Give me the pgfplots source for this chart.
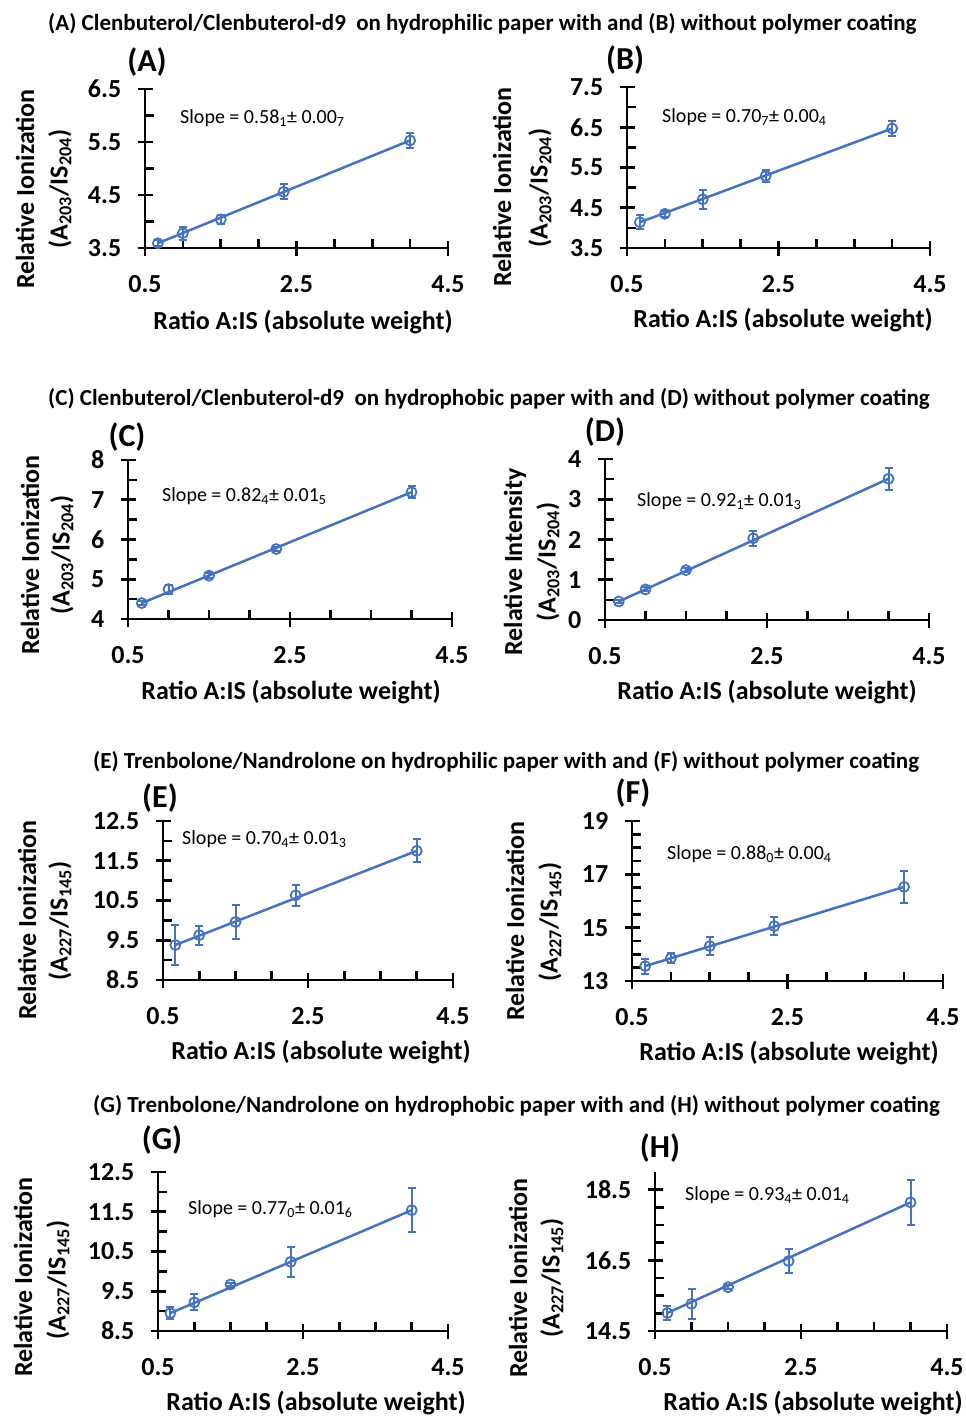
\documentclass[border=0pt]{standalone}
\usepackage{fontspec}
\setmainfont{Carlito}
\usepackage{pgfplots}
\pgfplotsset{compat=1.18}
\usepackage{pgfplotstable}
\definecolor{xlblue}{HTML}{4472C4}

% x = ratio A:IS, y = relative ionization, e = error
\pgfplotstableread{
x y e
0.67 3.59 0.06
1.0 3.78 0.12
1.5 4.04 0.09
2.33 4.56 0.14
4.0 5.53 0.14
}\dataA
\pgfplotstableread{
x y e
0.67 4.14 0.18
1.0 4.35 0.08
1.5 4.71 0.24
2.33 5.29 0.16
4.0 6.47 0.19
}\dataB
\pgfplotstableread{
x y e
0.67 4.40 0.05
1.0 4.75 0.11
1.5 5.09 0.06
2.33 5.76 0.05
4.0 7.19 0.15
}\dataC
\pgfplotstableread{
x y e
0.67 0.46 0.04
1.0 0.76 0.05
1.5 1.24 0.05
2.33 2.03 0.19
4.0 3.51 0.27
}\dataD
\pgfplotstableread{
x y e
0.67 9.38 0.50
1.0 9.63 0.24
1.5 9.96 0.42
2.33 10.63 0.26
4.0 11.75 0.29
}\dataE
\pgfplotstableread{
x y e
0.67 13.56 0.28
1.0 13.86 0.20
1.5 14.31 0.33
2.33 15.06 0.33
4.0 16.53 0.59
}\dataF
\pgfplotstableread{
x y e
0.67 8.95 0.15
1.0 9.22 0.20
1.5 9.67 0.05
2.33 10.24 0.37
4.0 11.54 0.56
}\dataG
\pgfplotstableread{
x y e
0.67 15.01 0.20
1.0 15.27 0.43
1.5 15.74 0.06
2.33 16.48 0.33
4.0 18.14 0.63
}\dataH

\newcommand{\tickfont}{\bfseries\fontsize{26}{28}\selectfont}
\newcommand{\labfont}{\bfseries\fontsize{26}{28}\selectfont}
\newcommand{\letfont}{\bfseries\fontsize{32}{34}\selectfont}
\newcommand{\slopefont}{\fontsize{20}{22}\selectfont}
\newcommand{\rowfont}{\bfseries\fontsize{23}{25}\selectfont}

\pgfplotsset{
  panel/.style={
    scale only axis, anchor=south west, clip=false,
    axis lines=left, axis line style={-, line width=2.6pt},
    xmin=0.5, xmax=4.5, xtick={0.5,2.5,4.5}, minor x tick num=3,
    tick align=center, major tick length=15pt, minor tick length=9pt,
    tick style={black, line width=2.6pt},
    minor x tick style={yshift=4.5pt},
    minor y tick style={xshift=4.5pt},
    tick label style={font=\tickfont, inner sep=0pt},
    /pgf/number format/assume math mode=true,
    xticklabel style={/pgf/number format/.cd, fixed, fixed zerofill, precision=1},
    xticklabel shift=20pt, yticklabel shift=16pt,
  },
  half/.style={yticklabel style={/pgf/number format/.cd, fixed, fixed zerofill, precision=1}},
  pts/.style={only marks, xlblue, mark=o, mark size=5pt, mark options={line width=1.8pt},
    error bars/.cd, y dir=both, y explicit,
    error bar style={line width=2pt, xlblue},
    error mark options={rotate=90, mark size=4pt, line width=2pt, xlblue}},
  fit/.style={xlblue, line width=2.5pt, no marks},
}

\begin{document}
\begin{tikzpicture}
\useasboundingbox (0,0) rectangle (966pt,-1416pt);

% row titles
\node[anchor=west, inner sep=0pt, font=\rowfont] at (48pt,-24pt) {(A) Clenbuterol/Clenbuterol-d9\ \ on hydrophilic paper with and (B) without polymer coating};
\node[anchor=west, inner sep=0pt, font=\rowfont] at (48pt,-399pt) {(C) Clenbuterol/Clenbuterol-d9\ \ on hydrophobic paper with and (D) without polymer coating};
\node[anchor=west, inner sep=0pt, font=\rowfont] at (93pt,-762pt) {(E) Trenbolone/Nandrolone on hydrophilic paper with and (F) without polymer coating};
\node[anchor=west, inner sep=0pt, font=\rowfont] at (93pt,-1106pt) {(G) Trenbolone/Nandrolone on hydrophobic paper with and (H) without polymer coating};

% (A)
\begin{axis}[panel, half, at={(145pt,-248pt)}, width=303pt, height=159pt,
  ymin=3.5, ymax=6.5, ytick={3.5,4.5,5.5,6.5}, minor y tick num=1]
\addplot[fit] coordinates {(0.67,3.59) (4.0,5.53)};
\addplot[pts] table[x=x, y=y, y error=e] {\dataA};
\end{axis}
% (B)
\begin{axis}[panel, half, at={(627pt,-248pt)}, width=303pt, height=161pt,
  ymin=3.5, ymax=7.5, ytick={3.5,4.5,5.5,6.5,7.5}, minor y tick num=1]
\addplot[fit] coordinates {(0.67,4.14) (4.0,6.47)};
\addplot[pts] table[x=x, y=y, y error=e] {\dataB};
\end{axis}
% (C)
\begin{axis}[panel, at={(128pt,-619pt)}, width=324pt, height=159pt,
  ymin=4, ymax=8, ytick={4,5,6,7,8}, minor y tick num=1]
\addplot[fit] coordinates {(0.67,4.40) (4.0,7.19)};
\addplot[pts] table[x=x, y=y, y error=e] {\dataC};
\end{axis}
% (D)
\begin{axis}[panel, at={(605pt,-620pt)}, width=324pt, height=161pt,
  ymin=0, ymax=4, ytick={0,1,2,3,4}, minor y tick num=1]
\addplot[fit] coordinates {(0.67,0.46) (4.0,3.51)};
\addplot[pts] table[x=x, y=y, y error=e] {\dataD};
\end{axis}
% (E)
\begin{axis}[panel, half, at={(163pt,-980pt)}, width=290pt, height=159pt,
  ymin=8.5, ymax=12.5, ytick={8.5,9.5,10.5,11.5,12.5}, minor y tick num=1]
\addplot[fit] coordinates {(0.67,9.38) (4.0,11.75)};
\addplot[pts] table[x=x, y=y, y error=e] {\dataE};
\end{axis}
% (F)
\begin{axis}[panel, at={(632pt,-981pt)}, width=311pt, height=160pt,
  ymin=13, ymax=19, ytick={13,15,17,19}, minor y tick num=3]
\addplot[fit] coordinates {(0.67,13.56) (4.0,16.53)};
\addplot[pts] table[x=x, y=y, y error=e] {\dataF};
\end{axis}
% (G)
\begin{axis}[panel, half, at={(158pt,-1331pt)}, width=290pt, height=159pt,
  ymin=8.5, ymax=12.5, ytick={8.5,9.5,10.5,11.5,12.5}, minor y tick num=1]
\addplot[fit] coordinates {(0.67,8.95) (4.0,11.54)};
\addplot[pts] table[x=x, y=y, y error=e] {\dataG};
\end{axis}
% (H)
\begin{axis}[panel, half, at={(655pt,-1331pt)}, width=292pt, height=159pt,
  ymin=14.5, ymax=19, ytick={14.5,16.5,18.5}, minor y tick num=3]
\addplot[fit] coordinates {(0.67,15.01) (4.0,18.14)};
\addplot[pts] table[x=x, y=y, y error=e] {\dataH};
\end{axis}

% panel letters
\node[font=\letfont] at (147pt,-62pt) {(A)};
\node[font=\letfont] at (625pt,-60pt) {(B)};
\node[font=\letfont] at (127pt,-437pt) {(C)};
\node[font=\letfont] at (605pt,-432pt) {(D)};
\node[font=\letfont] at (160pt,-798pt) {(E)};
\node[font=\letfont] at (633pt,-793pt) {(F)};
\node[font=\letfont] at (162pt,-1140pt) {(G)};
\node[font=\letfont] at (660pt,-1148pt) {(H)};

% slope annotations
\node[anchor=west, inner sep=0pt, font=\slopefont] at (180pt,-118pt) {Slope = 0.58\textsubscript{1}± 0.00\textsubscript{7}};
\node[anchor=west, inner sep=0pt, font=\slopefont] at (662pt,-117pt) {Slope = 0.70\textsubscript{7}± 0.00\textsubscript{4}};
\node[anchor=west, inner sep=0pt, font=\slopefont] at (162pt,-496pt) {Slope = 0.82\textsubscript{4}± 0.01\textsubscript{5}};
\node[anchor=west, inner sep=0pt, font=\slopefont] at (637pt,-501pt) {Slope = 0.92\textsubscript{1}± 0.01\textsubscript{3}};
\node[anchor=west, inner sep=0pt, font=\slopefont] at (182pt,-839pt) {Slope = 0.70\textsubscript{4}± 0.01\textsubscript{3}};
\node[anchor=west, inner sep=0pt, font=\slopefont] at (667pt,-854pt) {Slope = 0.88\textsubscript{0}± 0.00\textsubscript{4}};
\node[anchor=west, inner sep=0pt, font=\slopefont] at (188pt,-1209pt) {Slope = 0.77\textsubscript{0}± 0.01\textsubscript{6}};
\node[anchor=west, inner sep=0pt, font=\slopefont] at (685pt,-1195pt) {Slope = 0.93\textsubscript{4}± 0.01\textsubscript{4}};

% x axis titles
\node[font=\labfont, inner sep=0pt] at (303pt,-322pt) {Ratio A:IS (absolute weight)};
\node[font=\labfont, inner sep=0pt] at (783pt,-320pt) {Ratio A:IS (absolute weight)};
\node[font=\labfont, inner sep=0pt] at (291pt,-692pt) {Ratio A:IS (absolute weight)};
\node[font=\labfont, inner sep=0pt] at (767pt,-692pt) {Ratio A:IS (absolute weight)};
\node[font=\labfont, inner sep=0pt] at (321pt,-1052pt) {Ratio A:IS (absolute weight)};
\node[font=\labfont, inner sep=0pt] at (789pt,-1053pt) {Ratio A:IS (absolute weight)};
\node[font=\labfont, inner sep=0pt] at (316pt,-1403pt) {Ratio A:IS (absolute weight)};
\node[font=\labfont, inner sep=0pt] at (813pt,-1403pt) {Ratio A:IS (absolute weight)};

% y axis titles (two lines each)
\begin{scope}[every node/.style={rotate=90, font=\labfont, inner sep=0pt}]
\node at (25pt,-189pt) {Relative Ionization};
\node at (60pt,-189pt) {(A\textsubscript{203}/IS\textsubscript{204})};
\node at (502pt,-187pt) {Relative Ionization};
\node at (540pt,-188pt) {(A\textsubscript{203}/IS\textsubscript{204})};
\node at (30pt,-555pt) {Relative Ionization};
\node at (62pt,-555pt) {(A\textsubscript{203}/IS\textsubscript{204})};
\node at (515pt,-562pt) {Relative Intensity};
\node at (548pt,-562pt) {(A\textsubscript{203}/IS\textsubscript{204})};
\node at (27pt,-920pt) {Relative Ionization};
\node at (60pt,-921pt) {(A\textsubscript{227}/IS\textsubscript{145})};
\node at (515pt,-921pt) {Relative Ionization};
\node at (550pt,-922pt) {(A\textsubscript{227}/IS\textsubscript{145})};
\node at (23pt,-1277pt) {Relative Ionization};
\node at (58pt,-1280pt) {(A\textsubscript{227}/IS\textsubscript{145})};
\node at (518pt,-1278pt) {Relative Ionization};
\node at (552pt,-1278pt) {(A\textsubscript{227}/IS\textsubscript{145})};
\end{scope}
\end{tikzpicture}
\end{document}
